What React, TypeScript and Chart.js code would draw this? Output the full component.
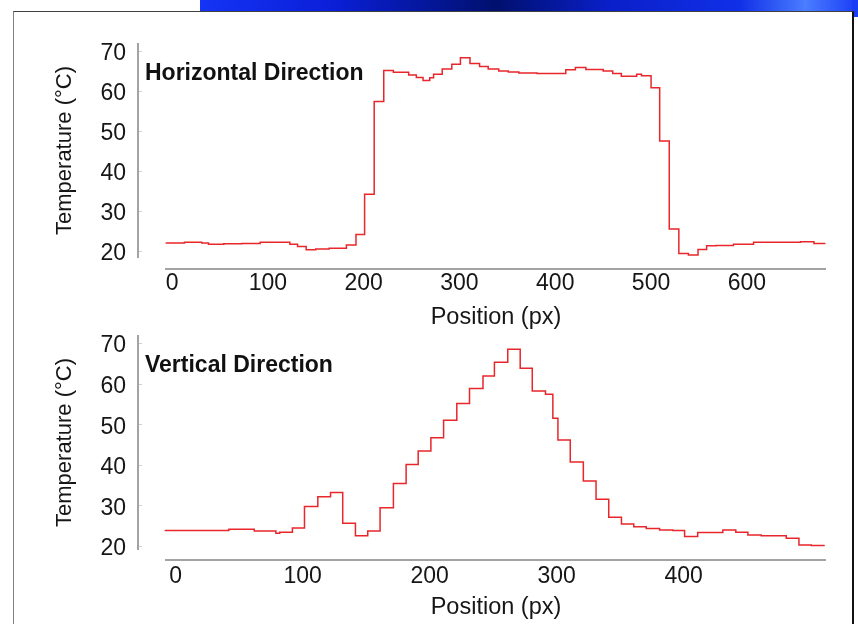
import React, { useEffect, useRef } from "react";
import { Chart, registerables } from "chart.js";

Chart.register(...registerables);

// ---- Data (plateau starts: position in px, temperature in °C) ----
const horizPos = [
  -6, 13, 31, 38, 54, 73, 92, 123, 131, 140, 150, 164, 182, 192, 201, 211, 221, 231,
  247, 255, 262, 269, 273, 282, 292, 301, 311, 321, 330, 341, 351, 362, 381, 411, 421,
  432, 450, 460, 469, 485, 490, 500, 509, 519, 529, 539, 549, 558, 568, 586, 607, 621,
  656, 670, 682,
];
const horizTemp = [
  22.1, 22.0, 22.2, 22.0, 21.7, 21.8, 21.9, 22.2, 21.7, 21.1, 20.3, 20.5, 20.7, 21.5,
  24.1, 34.2, 57.4, 65.1, 64.7, 64.0, 63.4, 62.6, 63.3, 64.2, 65.5, 66.7, 68.3, 66.9,
  66.1, 65.5, 65.0, 64.75, 64.5, 64.4, 65.3, 65.9, 65.4, 65.0, 64.4, 63.7, 64.2, 63.8,
  60.8, 47.5, 25.5, 19.4, 19.0, 20.4, 21.3, 21.4, 21.7, 22.2, 22.2, 22.3, 21.9,
];

const vertPos = [
  -8, 42, 62, 79, 82, 92, 101.5, 112, 122, 131.6, 141.6, 151.3, 161, 171.5, 181.5, 191,
  201, 211, 221.4, 231.4, 242, 251, 261.5, 271.3, 280.8, 291.2, 297, 301, 310.7, 321,
  331, 341, 351, 360.7, 370.5, 381, 391.5, 400.7, 411, 430.8, 441, 450.5, 461, 480.7,
  490.7, 500.4, 511,
];
const vertTemp = [
  23.9, 23.8, 24.1, 23.7, 23.1, 23.4, 24.4, 29.7, 32.1, 33.2, 25.6, 22.5, 23.7, 29.4,
  35.4, 40.1, 43.4, 46.7, 51.0, 55.1, 58.8, 61.9, 65.3, 68.5, 63.8, 58.2, 57.4, 51.5,
  46.1, 40.7, 36.0, 31.5, 27.1, 25.4, 24.75, 24.3, 23.9, 23.8, 22.3, 23.3, 23.9, 23.4,
  22.7, 22.5, 21.9, 20.25, 20.1,
];

const tempTicks = [20, 30, 40, 50, 60, 70];
const horizPosTicks = [0, 100, 200, 300, 400, 500, 600];
const vertPosTicks = [0, 100, 200, 300, 400];

const horizLabel = "Horizontal Direction";
const vertLabel = "Vertical Direction";
const xTitle = "Position (px)";
const yTitle = "Temperature (°C)";

const FONT = '"Liberation Sans", Arial, Helvetica, sans-serif';
const W = 858;
const H = 624;

Chart.defaults.font.family = FONT;
Chart.defaults.color = "#161616";

type Area = { left: number; right: number; top: number; bottom: number };

const decorPlugin = {
  id: "decor",
  afterDraw(chart: any, _args: any, opts: any) {
    const { ctx, chartArea: a, scales } = chart;
    const ys = scales.y;
    ctx.save();
    ctx.strokeStyle = "#a3a3a3";
    ctx.lineWidth = 2;
    const ax = a.left - opts.yGap;
    ctx.beginPath();
    ctx.moveTo(ax, a.top);
    ctx.lineTo(ax, a.bottom);
    ctx.stroke();
    const ay = a.bottom + opts.xGap;
    ctx.beginPath();
    ctx.moveTo(a.left - 1, ay);
    ctx.lineTo(a.right, ay);
    ctx.stroke();
    ctx.strokeStyle = "#cfcfcf";
    ctx.lineWidth = 1;
    for (const t of ys.ticks) {
      const py = Math.round(ys.getPixelForValue(t.value)) + 0.5;
      ctx.beginPath();
      ctx.moveTo(ax + 1, py);
      ctx.lineTo(ax + 4, py);
      ctx.stroke();
    }
    ctx.font = `bold 23px ${FONT}`;
    ctx.fillStyle = "#111";
    ctx.textAlign = "left";
    ctx.textBaseline = "middle";
    ctx.fillText(opts.text, a.left - 21, a.top + 31);
    ctx.restore();
  },
};

function makeConfig(p: {
  pos: number[];
  temp: number[];
  xTicks: number[];
  xMin: number;
  xMax: number;
  yMin: number;
  yMax: number;
  area: Area;
  xh: number;
  xLabelPad: number;
  xTitlePad: number;
  xGap: number;
  text: string;
}): any {
  const { area } = p;
  return {
    type: "line",
    data: {
      datasets: [
        {
          data: p.pos.map((x, i) => ({ x, y: p.temp[i] })),
          stepped: "after",
          borderColor: "#e8262b",
          borderWidth: 1.5,
          pointRadius: 0,
          fill: false,
          clip: 4,
        },
      ],
    },
    options: {
      responsive: false,
      animation: false,
      devicePixelRatio: 1,
      layout: {
        autoPadding: false,
        padding: {
          left: 0,
          top: area.top,
          right: W - area.right,
          bottom: H - area.bottom - p.xh,
        },
      },
      plugins: {
        legend: { display: false },
        tooltip: { enabled: false },
        decor: { text: p.text, yGap: 28, xGap: p.xGap },
      },
      scales: {
        x: {
          type: "linear",
          min: p.xMin,
          max: p.xMax,
          grid: { display: false, drawTicks: false },
          border: { display: false },
          afterBuildTicks: (s: any) => {
            s.ticks = p.xTicks.map((v) => ({ value: v }));
          },
          afterFit: (s: any) => {
            s.height = p.xh;
            s.paddingLeft = 0;
            s.paddingRight = 0;
          },
          ticks: {
            padding: p.xLabelPad,
            font: { size: 23 },
            color: "#161616",
            maxRotation: 0,
            autoSkip: false,
          },
          title: {
            display: true,
            text: xTitle,
            font: { size: 23.5 },
            color: "#161616",
            padding: { top: 0, bottom: p.xTitlePad },
          },
        },
        y: {
          type: "linear",
          min: p.yMin,
          max: p.yMax,
          grid: { display: false, drawTicks: false },
          border: { display: false },
          afterBuildTicks: (s: any) => {
            s.ticks = tempTicks.map((v) => ({ value: v }));
          },
          afterFit: (s: any) => {
            s.width = area.left;
            s.paddingTop = 0;
            s.paddingBottom = 0;
          },
          ticks: {
            padding: 40,
            labelOffset: 3,
            font: { size: 23 },
            color: "#161616",
            autoSkip: false,
          },
          title: {
            display: true,
            text: yTitle,
            font: { size: 22 },
            color: "#161616",
            padding: { top: 52, bottom: 0 },
          },
        },
      },
    },
    plugins: [decorPlugin],
  };
}

function ChartCanvas({ config }: { config: any }) {
  const ref = useRef<HTMLCanvasElement>(null);
  useEffect(() => {
    if (!ref.current) return;
    const chart = new Chart(ref.current, config);
    return () => chart.destroy();
  }, [config]);
  return (
    <canvas
      ref={ref}
      width={W}
      height={H}
      style={{ position: "absolute", left: 0, top: 0, width: W, height: H }}
    />
  );
}

const topConfig = makeConfig({
  pos: horizPos,
  temp: horizTemp,
  xTicks: horizPosTicks,
  xMin: -6.3,
  xMax: 682.6,
  yMin: 18.25,
  yMax: 72,
  area: { left: 166, right: 826, top: 43, bottom: 258 },
  xh: 80,
  xLabelPad: 12,
  xTitlePad: 6,
  xGap: 11,
  text: horizLabel,
});

const bottomConfig = makeConfig({
  pos: vertPos,
  temp: vertTemp,
  xTicks: vertPosTicks,
  xMin: -7.5,
  xMax: 512,
  yMin: 19.0,
  yMax: 72.0,
  area: { left: 166, right: 826, top: 335, bottom: 550 },
  xh: 74,
  xLabelPad: 13,
  xTitlePad: 2,
  xGap: 10,
  text: vertLabel,
});

export default function App() {
  return (
    <div
      style={{
        position: "absolute",
        left: 0,
        top: 0,
        width: W,
        height: H,
        background: "#ffffff",
        overflow: "hidden",
      }}
    >
      <div
        style={{
          position: "absolute",
          left: 200,
          top: 0,
          width: 658,
          height: 11,
          background:
            "linear-gradient(to right, #1534f5 0%, #0a1fd8 20%, #00106e 45%, #0a1fc8 62%, #1030e8 82%, #4a7dff 92%, #1a3cf5 100%)",
        }}
      />
      <div
        style={{
          position: "absolute",
          left: 852,
          top: 0,
          width: 6,
          height: 17,
          background: "#1a3cf5",
        }}
      />
      <div
        style={{
          position: "absolute",
          left: 13,
          top: 11,
          width: 838,
          height: 700,
          borderLeft: "1px solid #808080",
          borderTop: "1px solid #404040",
          borderRight: "2px solid #111",
        }}
      />
      <ChartCanvas config={topConfig} />
      <ChartCanvas config={bottomConfig} />
    </div>
  );
}
